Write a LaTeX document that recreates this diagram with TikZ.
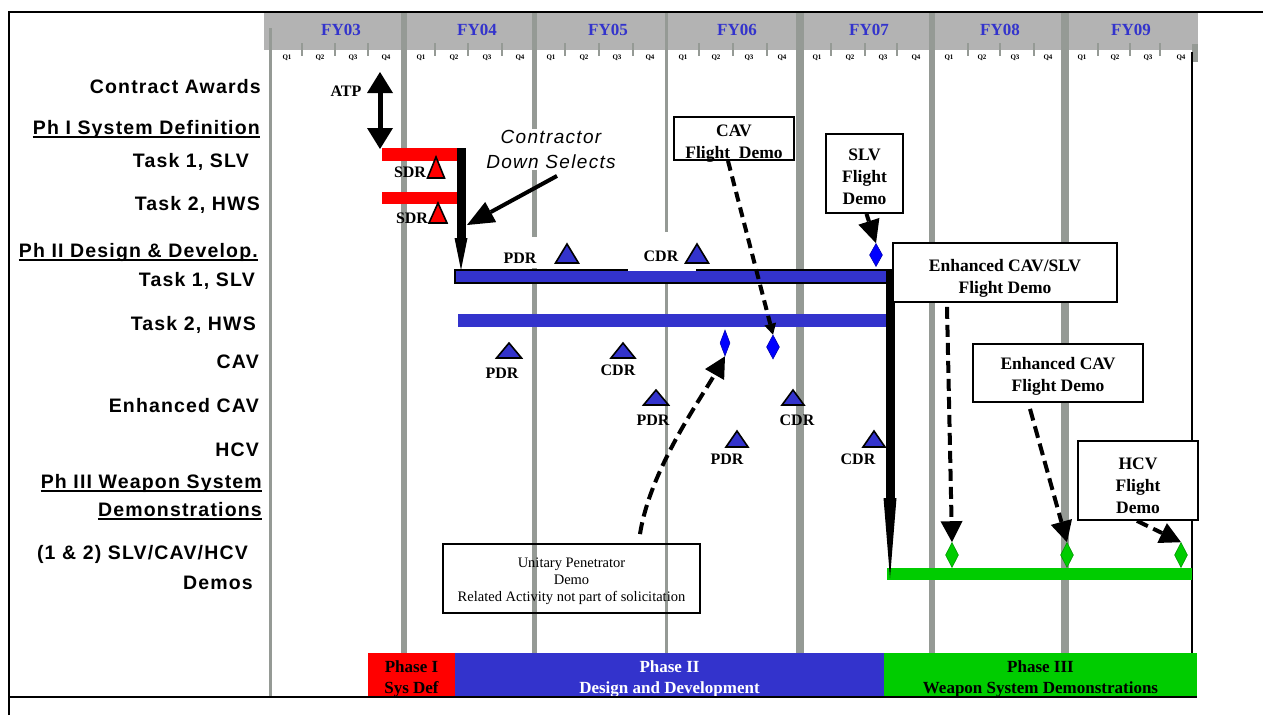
\documentclass[tikz,border=0pt]{standalone}
\usepackage{fontspec}
\setmainfont{Liberation Serif}
\newfontfamily\labfont{Liberation Sans}[LetterSpace=6]
\newfontfamily\cdsfont{Liberation Sans}[LetterSpace=7]
\usetikzlibrary{arrows.meta,shapes.geometric}
\definecolor{pblue}{HTML}{3333CC}
\definecolor{pgreen}{HTML}{00CC00}
\definecolor{dgreen}{HTML}{009900}
\definecolor{hdrgray}{HTML}{B3B3B3}
\definecolor{sepgray}{HTML}{959A95}
\definecolor{dblue}{HTML}{0000FF}
\newcommand{\milestone}[5]{\filldraw[fill=#5,draw=black,line width=1.6pt,line join=miter] (#1-#4,#3) -- (#1+#4,#3) -- (#1,#2) -- cycle;}
\newcommand{\stt}[1]{\rule{0pt}{#1pt}}
\begin{document}
\begin{tikzpicture}[x=1pt,y=-1pt,
 lab/.style={font=\labfont\bfseries\fontsize{19.5}{22}\selectfont,inner sep=0pt,anchor=base east},
 ms/.style={font=\bfseries\fontsize{16}{18}\selectfont,inner sep=0.5pt},
 demobox/.style={draw,line width=1.8pt,fill=white,align=center,inner sep=2pt,font=\bfseries\fontsize{17.5}{22}\selectfont},
 phase/.style={minimum height=44pt,inner sep=0pt,align=center,font=\bfseries\fontsize{17}{21}\selectfont},
 fy/.style={text=pblue,font=\bfseries\fontsize{17}{17}\selectfont,inner sep=0pt},
 ql/.style={font=\bfseries\fontsize{7}{7}\selectfont,inner sep=0pt},
 bdiam/.style={diamond,fill=dblue,draw=dblue!70!black,line width=0.6pt,inner sep=0pt,minimum width=12pt,minimum height=24pt},
 gdiam/.style={diamond,fill=pgreen,draw=dgreen,line width=0.6pt,inner sep=0pt,minimum width=13pt,minimum height=25pt},
 dasharr/.style={line width=4pt,dash pattern=on 12pt off 6pt,-{Triangle[length=21pt,width=22pt,line width=0pt]}},
 ul/.style={line width=1.8pt},
]
\useasboundingbox (0,0) rectangle (1263,715);
\fill[white] (0,0) rectangle (1263,715);

% header band
\fill[hdrgray] (264,13) rectangle (1198,50);
\fill[sepgray] (1192,44) rectangle (1198,62);
\foreach \s/\a/\b/\c in {270/302/335/368, 404/435/468/502, 534/565/599/633, 666/699/733/767, 800/831/865/897, 932/968/1000/1034, 1065/1098/1130/1160} {
  \foreach \t in {\a,\b,\c} \draw[sepgray,line width=2pt] (\t,43) -- (\t,56);
  \foreach \k in {1,2,3,4} \node[ql] (q\s-\k) at (\s-16+33*\k,58) {Q\k};
}
\foreach \x/\t in {341/03,477/04,608/05,737/06,869/07,1000/08,1131/09} \node[fy] (fy\t) at (\x,30) {FY\t};

% grid
\draw[sepgray,line width=3pt] (270,28) -- (270,697);
\foreach \x/\w in {404/6,534/5,666/3,800/8,932/6,1065/8} \draw[sepgray,line width=\w pt] (\x,13) -- (\x,697);
\draw[line width=1.5pt] (1192,52) -- (1192,697);

% frame
\draw[line width=2pt] (9,715) -- (9,11.5) -- (1263,11.5);

% left labels
\node[lab] (lCA) at (261,93) {Contract Awards};
\node[lab] (lP1) at (260,134) {Ph I System Definition};
\draw[ul] ([yshift=-3pt]lP1.base west) -- ([yshift=-3pt]lP1.base east);
\node[lab] (lT1a) at (249,167) {Task 1, SLV};
\node[lab] (lT2a) at (260,210) {Task 2, HWS};
\node[lab] (lP2) at (258,257) {Ph II Design \& Develop.};
\draw[ul] ([yshift=-3pt]lP2.base west) -- ([yshift=-3pt]lP2.base east);
\node[lab] (lT1b) at (255,286) {Task 1, SLV};
\node[lab] (lT2b) at (256,330) {Task 2, HWS};
\node[lab] (lCAV) at (259,368) {CAV};
\node[lab] (lECAV) at (259,412) {Enhanced CAV};
\node[lab] (lHCV) at (259,456) {HCV};
\node[lab] (lP3a) at (262,488) {Ph III Weapon System};
\draw[ul] ([yshift=-3pt]lP3a.base west) -- ([yshift=-3pt]lP3a.base east);
\node[lab] (lP3b) at (262,516) {Demonstrations};
\draw[ul] ([yshift=-3pt]lP3b.base west) -- ([yshift=-3pt]lP3b.base east);
\node[lab] (lD1) at (248,559) {(1 \& 2) SLV/CAV/HCV};
\node[lab] (lD2) at (253,589) {Demos};

% bars
\fill[red] (382,148) rectangle (461,161);
\fill[red] (382,192) rectangle (461,204);
\draw[fill=pblue,line width=2pt] (455,270) rectangle (891,283);
\fill[white] (628,232) rectangle (696,271.2);
\fill[white] (490,237) rectangle (548,268);
\fill[pblue] (458,314) rectangle (887,327);
\fill[pgreen] (887,568) rectangle (1192,580);

% down selects and phase III line
\coordinate (dsTop) at (461,148);
\coordinate (dsEnd) at (461,270);
\draw[line width=9pt,-{Triangle[length=32pt,width=13pt,line width=0pt]}] (dsTop) -- (dsEnd);
\coordinate (p3Top) at (890,270);
\coordinate (p3End) at (890,578);
\draw[line width=9pt,-{Triangle[length=80pt,width=13pt,line width=0pt]}] (p3Top) -- (p3End);

% ATP
\coordinate (atpTop) at (380,72);
\coordinate (atpBot) at (380,149);
\draw[line width=5pt,{Triangle[length=21pt,width=26pt,line width=0pt]}-{Triangle[length=21pt,width=26pt,line width=0pt]}] (atpTop) -- (atpBot);
\node[ms] (atp) at (346,91) {ATP};

% contractor down selects
\node[font=\cdsfont\itshape\fontsize{19}{25}\selectfont,align=center,fill=white,inner sep=1pt] (cds) at (551,149.5) {Contractor\\Down Selects};
\coordinate (cdsT) at (467,225);
\draw[line width=4pt,-{Triangle[length=27pt,width=23pt,line width=0pt]}] ([xshift=6pt,yshift=-6pt]cds.south) -- (cdsT);

% milestones
\milestone{436}{157}{178}{8.5}{red}
\milestone{438}{203}{223}{9}{red}
\node[ms] (sdr1) at (410,172) {SDR};
\node[ms] (sdr2) at (412,218) {SDR};
\milestone{567}{244}{263}{11.5}{pblue}
\milestone{697}{244}{263}{11.5}{pblue}
\node[ms] (pdr1) at (520,258) {PDR};
\node[ms] (cdr1) at (661,256) {CDR};
\milestone{509}{343}{358}{12.5}{pblue}
\milestone{623}{343}{358}{12}{pblue}
\node[ms] (pdr2) at (502,373) {PDR};
\node[ms] (cdr2) at (618,370) {CDR};
\milestone{656}{390}{405}{12.5}{pblue}
\milestone{793}{390}{405}{11}{pblue}
\node[ms] (pdr3) at (653,420) {PDR};
\node[ms] (cdr3) at (797,420) {CDR};
\milestone{737}{431}{447}{11}{pblue}
\milestone{874}{431}{447}{11}{pblue}
\node[ms] (pdr4) at (727,459) {PDR};
\node[ms] (cdr4) at (858,459) {CDR};

% boxes
\node[demobox,minimum width=120pt,minimum height=43pt] (cavbox) at (734,138.5) {};
\node[align=center,inner sep=0pt,anchor=north,font=\bfseries\fontsize{17.5}{22}\selectfont] (cavtxt) at (734,122.8) {\stt{13}CAV\\Flight\ \ Demo};
\node[demobox,minimum width=77pt,minimum height=79pt] (slvbox) at (864.5,173.5) {\stt{18.4}SLV\\Flight\\Demo};
\node[demobox,minimum width=224pt,minimum height=59pt] (ecsbox) at (1005,272.5) {\stt{24}Enhanced CAV/SLV\\Flight Demo};
\node[demobox,minimum width=170pt,minimum height=58pt] (ecbox) at (1058,373) {\stt{19.4}Enhanced CAV\\Flight Demo};
\node[demobox,minimum width=120pt,minimum height=79pt] (hcvbox) at (1138,480.5) {\stt{22.4}HCV\\Flight\\Demo};
\node[draw,line width=1.8pt,align=center,minimum width=257pt,minimum height=69pt,font=\fontsize{14.5}{17}\selectfont] (upbox) at (571.5,578.5) {\stt{15.8}Unitary Penetrator\\Demo\\Related Activity not part of solicitation};

% diamonds
\node[bdiam,minimum width=10pt,minimum height=26pt] (dc1) at (725,343) {};
\node[bdiam,minimum width=13pt] (dc2) at (773,347) {};
\node[bdiam,minimum width=13pt,minimum height=23pt] (dslv) at (876,255) {};
\node[gdiam] (g1) at (952,555) {};
\node[gdiam] (g2) at (1067,555) {};
\node[gdiam] (g3) at (1181,555) {};

% arrows
\draw[line width=4pt,dash pattern=on 10pt off 6pt,-{Triangle[length=11pt,width=12pt,line width=0pt]}] ([xshift=-6pt]cavbox.south) -- (dc2.north);
\draw[dasharr] ([xshift=68.5pt,yshift=9pt]upbox.north) .. controls (650,470) and (700,400) .. (dc1.south);
\draw[line width=4pt,-{Triangle[length=23pt,width=22pt,line width=0pt]}] ([xshift=2pt]slvbox.south) -- (dslv.north);
\draw[dasharr] ([xshift=-58pt,yshift=-4pt]ecsbox.south) -- (g1.north);
\draw[dasharr] ([xshift=-28pt,yshift=-6pt]ecbox.south) -- (g2.north);
\draw[dasharr] ([xshift=-1pt]hcvbox.south) -- (g3.north);

% phase bar
\node[phase,fill=red,minimum width=87pt] (ph1) at (411.5,675) {\stt{19.3}Phase I\\Sys Def};
\node[phase,fill=pblue,minimum width=429pt,text=white] (ph2) at (669.5,675) {\stt{19.3}Phase II\\Design and Development};
\node[phase,fill=pgreen,minimum width=313pt] (ph3) at (1040.5,675) {\stt{19.3}Phase III\\Weapon System Demonstrations};
\draw[line width=2pt] (9,697) -- (1197,697);
\end{tikzpicture}
\end{document}
